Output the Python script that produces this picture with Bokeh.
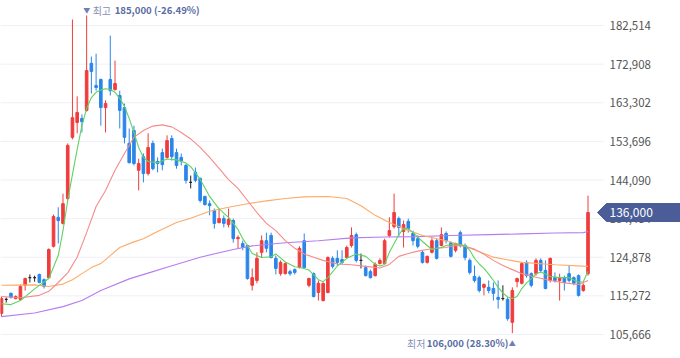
from bokeh.plotting import figure
from bokeh.models import Range1d, Label, ColumnDataSource
from bokeh.core.properties import value
from bokeh.embed import file_html
from bokeh.resources import INLINE

# ---- data ----
opens = [110900, 114400, 115900, 114600, 114400, 117900, 119800, 119800, 120600, 119300,
         119800, 127600, 134800, 133300, 139500, 154700, 158400, 159400, 161400, 173100,
         167600, 169100, 162100, 169100, 166600, 165100, 162100, 153200, 156400, 146500,
         149900, 145700, 153200, 148700, 150900, 149700, 154400, 150900, 149700, 147700,
         143500, 146000, 144500, 140000, 138200, 136500, 133500, 134500, 133000, 134000,
         129500, 128300, 127800, 117900, 119100, 126100, 129000, 130300, 124600, 120800,
         120800, 121300, 121800, 122300, 129000, 117900, 120800, 116100, 114100, 116100,
         124600, 124600, 124300, 124800, 127800, 130500, 124100, 122300, 121300, 120300,
         123300, 123300, 130300, 132500, 134500, 131300, 133800, 130800, 129500, 126100,
         123600, 126100, 129000, 127800, 130800, 128500, 126600, 131000, 127800, 124100,
         120100, 119800, 117400, 117400, 117100, 114900, 114600, 114400, 108700, 118800,
         118400, 123600, 120800, 120800, 124100, 121600, 119100, 119800, 119100, 119800,
         120800, 119800, 120300, 116600, 120800]
highs = [115100, 114900, 116100, 115400, 118100, 119800, 120600, 120300, 120800, 119600,
         127100, 135500, 137300, 140700, 153200, 184000, 164900, 160400, 185000, 174800,
         175500, 169300, 163900, 180000, 173800, 166300, 163100, 156900, 157600, 149400,
         150700, 155700, 153900, 149700, 151900, 155200, 155200, 151900, 150700, 148200,
         145200, 147200, 144700, 140200, 139000, 137000, 137000, 135300, 137000, 134500,
         130300, 129000, 128000, 122100, 126100, 130300, 131000, 131000, 125300, 124100,
         123600, 121800, 122100, 127600, 130800, 119800, 121100, 119100, 118600, 125100,
         125100, 126600, 126600, 127800, 132300, 131000, 125800, 122800, 121800, 123600,
         124600, 129500, 134800, 140700, 135000, 134000, 134500, 131500, 130300, 126600,
         125300, 129800, 129500, 132300, 131300, 128800, 128500, 131500, 128300, 124600,
         122800, 120300, 118400, 119100, 118600, 119100, 117900, 114900, 117400, 119800,
         123600, 124100, 121100, 124600, 124600, 124100, 124800, 121100, 120800, 120300,
         122800, 120100, 120600, 118400, 140200]
lows = [110100, 113600, 114600, 114400, 114100, 116600, 118600, 118800, 118400, 117100,
        119600, 127300, 128300, 133000, 139000, 154200, 155700, 155900, 161100, 165600,
        166300, 157600, 155900, 165100, 166300, 156900, 153200, 148200, 147700, 141500,
        143500, 145200, 146500, 146000, 146500, 149400, 148900, 146900, 147700, 143200,
        142000, 143500, 138500, 137700, 135300, 132000, 133300, 132300, 132300, 128500,
        127100, 126600, 119300, 116600, 118400, 124800, 126100, 124600, 120600, 120300,
        120600, 120300, 120600, 122100, 122100, 117400, 114900, 114100, 113900, 115900,
        122100, 122800, 123100, 124600, 127300, 123600, 122100, 120100, 119600, 120100,
        123100, 123100, 129800, 132000, 130000, 127300, 131000, 127800, 127100, 123300,
        123300, 125800, 124300, 127600, 128300, 124800, 126100, 127300, 124100, 120600,
        118600, 116100, 115400, 115900, 114100, 112100, 114100, 109100, 106000, 117400,
        118100, 119800, 117400, 120300, 121100, 116900, 118600, 118600, 114100, 116600,
        118600, 117900, 115100, 116300, 120300]
closes = [114600, 114400, 114900, 115100, 117600, 119600, 119800, 119800, 118600, 117600,
          126800, 135000, 134000, 138200, 152700, 159600, 160900, 158600, 171300, 171100,
          167100, 162100, 163100, 166300, 168100, 161400, 154700, 148400, 148200, 148200,
          145700, 152200, 146900, 148200, 147900, 153900, 149900, 147700, 148900, 144000,
          143500, 144000, 139000, 138000, 137700, 133300, 134500, 133300, 134300, 129500,
          129800, 127300, 119600, 119800, 124600, 129000, 127100, 124800, 122100, 123600,
          123300, 120800, 121100, 127100, 122300, 119600, 115100, 118400, 118400, 124800,
          122600, 123600, 123600, 127300, 130300, 124100, 124100, 120300, 119800, 123100,
          124100, 129000, 131500, 136000, 132300, 133000, 132000, 129000, 127600, 123600,
          125100, 129000, 124600, 130500, 129000, 125100, 128300, 127800, 124800, 121100,
          119100, 116600, 118100, 116600, 115900, 114400, 114600, 109600, 116600, 119600,
          123300, 120300, 117900, 124100, 121600, 117100, 124600, 119100, 119800, 118600,
          119100, 118400, 115400, 117900, 136000]

ma5_idx = [0, 2, 4, 7, 10, 12, 13, 14, 15, 16, 17, 18, 19, 20, 21, 22, 23, 24, 25, 26, 27, 28,
           29, 30, 31, 33, 35, 37, 39, 40, 42, 44, 46, 48, 50, 51, 52, 53, 55, 57, 58, 60, 62,
           63, 65, 67, 68, 69, 71, 73, 75, 77, 79, 80, 81, 82, 83, 84, 85, 86, 87, 89, 91, 93,
           94, 96, 98, 99, 100, 101, 102, 103, 104, 105, 106, 107, 108, 109, 110, 111, 112,
           113, 114, 115, 116, 118, 120, 121, 122, 123, 124]
ma5 = [113300, 113100, 114100, 117000, 119600, 125300, 131500, 139000, 145500, 151700,
       157600, 161900, 164600, 165900, 166500, 166800, 166600, 165900, 164400, 162400,
       159400, 155900, 152200, 149700, 148700, 148400, 149300, 149100, 148300, 147400,
       144300, 140000, 136900, 134800, 131800, 129500, 127800, 125800, 124800, 125000,
       125700, 123700, 122500, 122400, 121700, 119300, 118800, 119800, 122700, 124600,
       125700, 125100, 123100, 122700, 123100, 126100, 128300, 130500, 132000, 132000,
       131000, 128800, 126800, 127300, 127800, 128200, 127800, 126600, 124600, 123200,
       122100, 120700, 119100, 117400, 116000, 115000, 114600, 115100, 117100, 118500,
       119500, 120800, 121200, 120700, 120100, 119800, 119800, 119200, 118700, 118800,
       121400]

ma20_idx = [0, 4, 8, 10, 12, 14, 16, 18, 20, 22, 24, 26, 28, 30, 32, 34, 36, 38, 40, 42,
            44, 46, 48, 50, 52, 54, 56, 58, 60, 62, 64, 66, 68, 71, 74, 77, 80, 82, 84, 86,
            88, 90, 92, 94, 96, 98, 100, 102, 104, 106, 108, 110, 113, 116, 119, 122, 124]
ma20 = [115100, 114800, 115400, 116400, 118600, 121000, 124900, 131000, 137500, 141500,
        146500, 150700, 154700, 156400, 157500, 157800, 157300, 155900, 154300, 152200,
        149700, 147000, 144200, 142000, 139000, 136000, 133300, 131500, 129000, 127100,
        125700, 124900, 124100, 123200, 123000, 122600, 122200, 123100, 125100, 125800,
        126400, 126800, 127100, 127300, 127800, 127600, 126900, 125600, 124100, 122800,
        121800, 120800, 119900, 119100, 118500, 118100, 119100]

ma60_idx = [0, 7, 10, 13, 15, 17, 19, 21, 23, 25, 28, 30, 33, 37, 40, 44, 48, 52, 56, 60,
            64, 69, 73, 76, 79, 82, 85, 89, 94, 98, 104, 110, 117, 124]
ma60 = [117900, 118000, 117600, 118200, 119300, 120800, 122300, 123300, 125300, 127300,
        128700, 129500, 131300, 133500, 134600, 136300, 137300, 138200, 138900, 139500,
        139900, 140000, 139500, 137700, 135300, 133500, 132000, 130300, 129000, 127600,
        124900, 123600, 123000, 122600]

ma120_idx = [0, 7, 13, 17, 21, 27, 32, 35, 42, 49, 53, 60, 67, 74, 81, 88, 95, 103, 110,
             117, 123, 124]
ma120 = [110100, 111000, 112600, 114100, 116600, 119500, 121300, 122400, 124900, 126800,
         127700, 128500, 129000, 129700, 129900, 130000, 130300, 130500, 130700, 130900,
         131000, 131300]

tick_values = [105666, 115272, 124878, 134484, 144090, 153696, 163302, 172908, 182514]
tick_labels = ["105,666", "115,272", "124,878", "134,484", "144,090", "153,696",
               "163,302", "172,908", "182,514"]

high_price = 185000
high_pct = "(-26.49%)"
low_price = 106000
low_pct = "(28.30%)"
last_price = 136000

# ---- geometry ----
W, H = 680, 358
STEP = 4.73                 # pixels per candle
X0 = -1.0 / STEP            # data x at left edge
X1 = X0 + W / STEP          # data x at right edge
PLOT_R = X0 + 603 / STEP    # right end of the price area (grid lines)
LABEL_X = X0 + 609 / STEP   # axis label column
Y0, Y1 = 99697, 188732
PX_Y = (Y1 - Y0) / H        # price units per pixel

FONT = "Noto Sans CJK KR"
UP = "#f03c3c"
DOWN = "#2a86ea"
FLAT = "#222222"

idx = list(range(len(closes)))
colors = [UP if c > o else (DOWN if c < o else FLAT) for o, c in zip(opens, closes)]
src = ColumnDataSource(dict(
    x=idx, o=opens, h=highs, l=lows, c=closes, col=colors,
    top=[max(o, c) for o, c in zip(opens, closes)],
    bot=[min(o, c) for o, c in zip(opens, closes)],
))

p = figure(width=W, height=H, output_backend="svg", toolbar_location=None,
           x_range=Range1d(X0, X1), y_range=Range1d(Y0, Y1),
           x_axis_location=None, y_axis_location=None,
           min_border_left=0, min_border_right=0, min_border_top=0, min_border_bottom=0)
p.outline_line_color = None
p.background_fill_color = "white"
p.border_fill_color = "white"
p.xgrid.visible = False
p.ygrid.visible = False

# horizontal grid lines at the price ticks
n = len(tick_values)
p.segment(x0=[X0] * n, x1=[PLOT_R] * n, y0=tick_values, y1=tick_values,
          line_color="#eef0f7", line_width=1)

# price scale labels
p.text(x=[LABEL_X] * n, y=tick_values, text=tick_labels, text_font=value(FONT),
       text_font_size="11.5px", text_color="#555555", text_baseline="middle",
       text_align="left")

# candles
p.segment(x0="x", y0="l", x1="x", y1="h", color="col", line_width=1, source=src)
p.vbar(x="x", width=0.55, top="top", bottom="bot", fill_color="col", line_color="col",
       line_width=1, source=src)

# moving averages
p.line(ma120_idx, ma120, line_color="#b47ef2", line_width=1.1)
p.line(ma60_idx, ma60, line_color="#ffaa66", line_width=1.1)
p.line(ma20_idx, ma20, line_color="#f88a8a", line_width=1.1)
p.line(ma5_idx, ma5, line_color="#5fd35f", line_width=1.1)

# high / low markers
hi_i = highs.index(max(highs))
lo_i = lows.index(min(lows))
HI_Y = Y1 - 9.5 * PX_Y
LO_Y = Y1 - 342.5 * PX_Y
p.add_layout(Label(x=hi_i, y=HI_Y, text="▼", text_align="center",
                   text_baseline="middle", text_font=FONT, text_font_size="7px",
                   text_color="#6f7fb0"))
p.add_layout(Label(x=hi_i, y=HI_Y, text="최고", x_offset=6, text_align="left",
                   text_baseline="middle", text_font=FONT, text_font_size="10px",
                   text_color="#8590b5"))
p.add_layout(Label(x=hi_i, y=HI_Y, text=f"{high_price:,} {high_pct}", x_offset=28,
                   text_align="left", text_baseline="middle", text_font=FONT,
                   text_font_size="9.6px", text_font_style="bold", text_color="#5a6ca6"))

p.add_layout(Label(x=lo_i, y=LO_Y, text="▲", text_align="center", text_baseline="middle",
                   text_font=FONT, text_font_size="7px", text_color="#6f7fb0"))
p.add_layout(Label(x=lo_i, y=LO_Y, text=f"{low_price:,} {low_pct}", x_offset=-4,
                   text_align="right", text_baseline="middle", text_font=FONT,
                   text_font_size="9.6px", text_font_style="bold", text_color="#5a6ca6"))
p.add_layout(Label(x=lo_i, y=LO_Y, text="최저", x_offset=-87, text_align="right",
                   text_baseline="middle", text_font=FONT, text_font_size="10px",
                   text_color="#8590b5"))

# current price tag (arrow-shaped box)
half = 9 * PX_Y
tip = X0 + 597 / STEP
box_l = X0 + 606 / STEP
p.patch(x=[tip, box_l, X1 + 2, X1 + 2, box_l],
        y=[last_price, last_price + half, last_price + half, last_price - half,
           last_price - half],
        fill_color="#4a5d98", line_color="#4a5d98")
p.text(x=[LABEL_X], y=[last_price], text=[f"{last_price:,}"], text_font=value(FONT),
       text_font_size="12px", text_color="white", text_baseline="middle",
       text_align="left")

open("out.html", "w").write(file_html(p, INLINE))
